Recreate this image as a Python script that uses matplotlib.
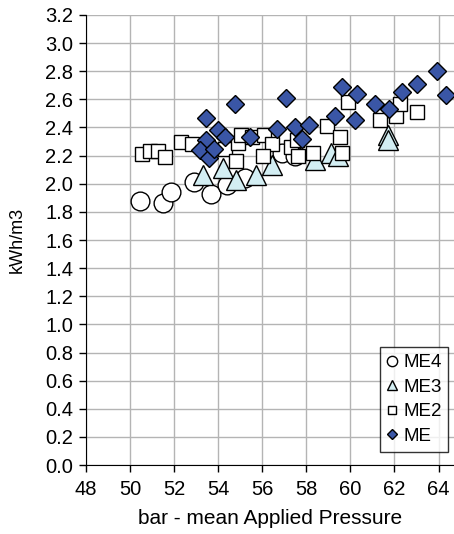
import numpy as np
import matplotlib.pyplot as plt

plt.rcParams['font.family'] = ['Liberation Sans', 'DejaVu Sans']

# specific energy vs mean applied pressure, four membrane element series
me4_x = [50.45, 51.5, 51.88, 52.92, 53.7, 54.4, 55.2, 56.88, 57.5]
me4_y = [1.88, 1.86, 1.94, 2.01, 1.93, 1.99, 2.04, 2.22, 2.20]

me3_x = [53.3, 54.2, 54.8, 55.7, 56.45, 58.4, 59.1, 59.45, 61.7, 61.7]
me3_y = [2.06, 2.11, 2.03, 2.06, 2.13, 2.17, 2.22, 2.20, 2.35, 2.31]

me2_x = [50.53, 50.9, 51.28, 51.58, 52.34, 52.8, 54.3, 54.9, 54.83, 55.06,
         55.55, 56.08, 56.43, 56.05, 57.3, 57.56, 57.63, 58.3, 58.92, 59.52,
         59.64, 59.9, 61.34, 62.09, 62.25, 63.0]
me2_y = [2.21, 2.23, 2.23, 2.19, 2.30, 2.28, 2.25, 2.29, 2.16, 2.35,
         2.33, 2.35, 2.28, 2.20, 2.26, 2.31, 2.20, 2.22, 2.41, 2.33,
         2.22, 2.58, 2.45, 2.48, 2.57, 2.51]

me_x = [53.47, 53.45, 53.2, 53.6, 53.8, 54.0, 54.3, 54.76, 55.44, 56.65,
        57.07, 57.48, 58.13, 57.8, 59.3, 59.6, 60.22, 60.28, 61.11, 61.75,
        62.32, 63.03, 63.94, 64.32]
me_y = [2.47, 2.31, 2.24, 2.18, 2.25, 2.38, 2.33, 2.57, 2.33, 2.39,
        2.61, 2.40, 2.42, 2.32, 2.48, 2.69, 2.45, 2.64, 2.57, 2.53,
        2.65, 2.71, 2.80, 2.63]

fig = plt.figure(figsize=(4.54, 5.34), dpi=100)
ax = fig.add_axes([0.189, 0.129, 0.811, 0.843])

ax.plot(me4_x, me4_y, 'o', ms=13.5, mfc='white', mec='black', mew=1.0, label='ME4')
ax.plot(me3_x, me3_y, '^', ms=14, mfc='#D3EEF3', mec='black', mew=1.0, label='ME3')
ax.plot(me2_x, me2_y, 's', ms=10.5, mfc='white', mec='black', mew=1.0, label='ME2')
ax.plot(me_x, me_y, 'D', ms=9.5, mfc='#3A56A6', mec='black', mew=1.0, label='ME')

ax.set_xlim(48, 64.7)
ax.set_ylim(0, 3.2)
ax.set_xticks(np.arange(48, 65, 2))
ax.set_yticks(np.arange(0, 3.21, 0.2))
ax.set_yticklabels(['%.1f' % v for v in np.arange(0, 3.21, 0.2)])
ax.grid(True, color='#B4B4B4', lw=1.0)
ax.set_axisbelow(True)
ax.spines['top'].set_visible(False)
ax.spines['right'].set_visible(False)
ax.tick_params(direction='out', length=5, width=1, labelsize=14.5)
ax.tick_params(axis='x', pad=6)
ax.tick_params(axis='y', pad=4)
ax.set_xlabel('bar - mean Applied Pressure', fontsize=15, labelpad=7)
ax.set_ylabel('kWh/m3', fontsize=13, labelpad=14)

leg = ax.legend(loc='lower right', bbox_to_anchor=(0.985, 0.03), fontsize=13.5,
                markerscale=0.55, frameon=True, fancybox=False, edgecolor='black',
                handlelength=0.6, handletextpad=0.3, borderpad=0.35,
                labelspacing=0.4, borderaxespad=0)
leg.get_frame().set_linewidth(1.0)

fig.savefig('out.png', dpi=100)
plt.close(fig)
